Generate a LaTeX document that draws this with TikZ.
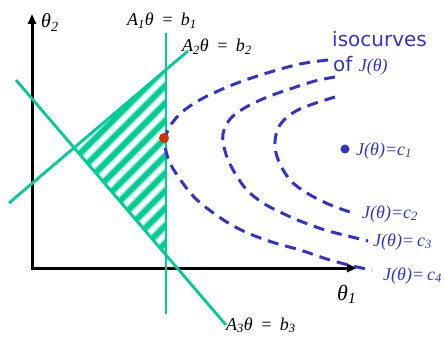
\documentclass[tikz,border=0pt]{standalone}
\usepackage{fontspec}
\setmainfont{Liberation Serif}
\newfontfamily\sansf{DejaVu Sans}
\usetikzlibrary{arrows.meta}
\definecolor{grn}{RGB}{0,204,150}
\definecolor{blu}{RGB}{51,51,204}
\definecolor{redd}{RGB}{204,51,0}
\newcommand\ssub[1]{\textsubscript{#1}}
\newcommand\eqsp{\hspace{7.5pt}=\hspace{7.5pt}}
\begin{document}
\begin{tikzpicture}[x=1pt,y=-1pt,
  axis/.style={line width=3pt},
  cons/.style={grn,line width=2.8pt},
  iso/.style={blu,line width=3pt,dash pattern=on 11pt off 7pt},
  lab/.style={anchor=base west,inner sep=0pt,font=\fontsize{18}{20}\selectfont\itshape},
  blab/.style={anchor=base west,inner sep=0pt,text=blu,font=\fontsize{18}{20}\selectfont\itshape},
  slab/.style={anchor=base west,inner sep=0pt,text=blu,font=\fontsize{20}{22}\selectfont\sansf}]
\useasboundingbox (0,0) rectangle (444,337);

% hatching
\coordinate (hA) at (74,148);
\coordinate (hB) at (166,71);
\coordinate (hC) at (166,253);
\begin{scope}
  \clip (hA) -- (hB) -- (hC) -- cycle;
  \foreach \k in {-3,...,12} {
    \draw[grn!40,line width=8pt] ({166+60},{85+17.5*\k-1.0*60}) -- ({166-150},{85+17.5*\k+1.0*150});
    \draw[grn,line width=5pt] ({166+60},{85+17.5*\k-1.0*60}) -- ({166-150},{85+17.5*\k+1.0*150});
  }
\end{scope}

% axes
\coordinate (yt) at (32,14);
\coordinate (o) at (32,268);
\coordinate (xt) at (357,268);
\draw[axis,{Triangle[length=10pt,width=8pt]}-{Triangle[length=10pt,width=8pt]}] (yt) -- (o) -- (xt);

% constraint lines
\coordinate (v1) at (166,33);
\coordinate (v2) at (166,314);
\coordinate (p1) at (9,203);
\coordinate (p2) at (188,51);
\coordinate (q1) at (16,80);
\coordinate (q2) at (226,325);
\draw[cons] (v1) -- (v2);
\draw[cons] (p1) -- (p2);
\draw[cons] (q1) -- (q2);

% isocurves
\draw[iso] plot[smooth,tension=0.6] coordinates {(328,60) (300,64) (267,73) (240,82) (218,91) (198,101) (181,113) (169,128) (165,144) (170,163) (182,182) (195,198) (212,212) (230,224) (250,234) (275,243) (300,250) (330,260) (357,267) (372,270)};
\draw[iso] plot[smooth,tension=0.6] coordinates {(335,77) (315,81) (293,88) (270,96) (248,106) (231,118) (223,134) (225,151) (232,168) (246,189) (263,203) (282,213) (300,221) (325,230) (348,236) (368,241)};
\draw[iso] plot[smooth,tension=0.6] coordinates {(335,97) (313,104) (296,111) (284,120) (277,131) (275,147) (280,164) (292,182) (312,196) (333,206) (353,213)};

% points
\node[circle,fill=redd,minimum size=10pt,inner sep=0pt] (opt) at (164,138) {};
\node[circle,fill=blu,minimum size=9pt,inner sep=0pt] (c1dot) at (345,149) {};

% labels
\node[lab,font=\fontsize{20}{22}\selectfont\itshape] (th2) at (41,28) {θ\ssub{2}};
\node[lab,font=\fontsize{22}{24}\selectfont\itshape] (th1) at (337,300) {θ\ssub{1}};
\node[lab] (a1) at (127,26) {A\ssub{1}θ\eqsp b\ssub{1}};
\node[lab] (a2) at (182,52) {A\ssub{2}θ\eqsp b\ssub{2}};
\node[lab] (a3) at (226,330) {A\ssub{3}θ\eqsp b\ssub{3}};

\node[slab] (iso1) at (332,47) {isocurves};
\node[slab] (iso2) at (333,71) {of \textcolor{blu}{\fontsize{18}{20}\selectfont\rmfamily\itshape J(θ)}};

\node[blab] (c1) at (356,155) {J(θ)=c\ssub{1}};
\node[blab] (c2) at (362,218) {J(θ)=c\ssub{2}};
\node[blab] (c3) at (373,246) {J(θ)=\hspace{3pt}c\ssub{3}};
\node[blab] (c4) at (383,280) {J(θ)=\hspace{3pt}c\ssub{4}};
\end{tikzpicture}
\end{document}
